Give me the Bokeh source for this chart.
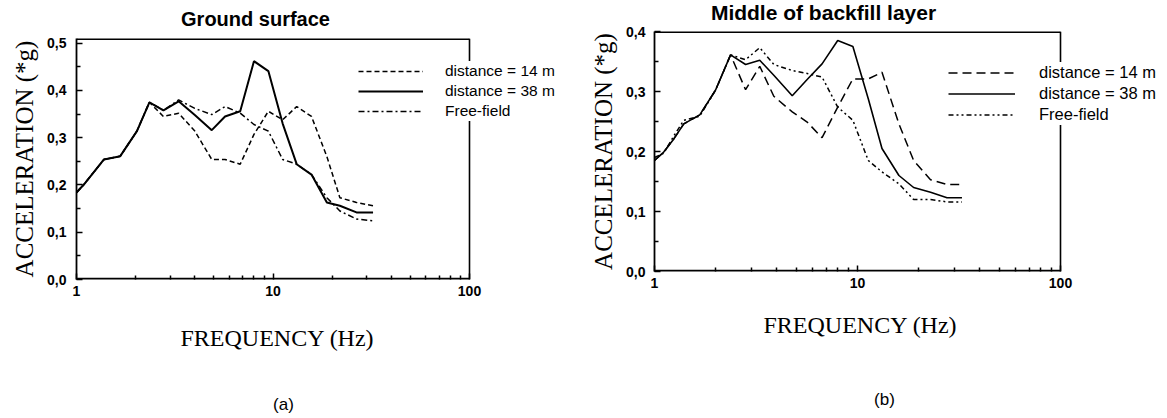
from bokeh.plotting import figure
from bokeh.models import (FixedTicker, Legend, LegendItem, Range1d,
                          CustomJSTickFormatter)
from bokeh.core.properties import value
from bokeh.layouts import row, column
from bokeh.embed import file_html
from bokeh.resources import INLINE

# ---------------- data ----------------
# Panel (a): Ground surface
freq_a = [1.0, 1.09, 1.38, 1.67, 2.03, 2.35, 2.77, 3.31, 4.0, 4.88, 5.70,
          6.81, 8.0, 9.47, 11.2, 13.2, 15.7, 18.8, 21.9, 26.6, 32.3]
d14_a = [0.184, 0.201, 0.254, 0.261, 0.314, 0.375, 0.345, 0.352, 0.314, 0.254, 0.254,
         0.244, 0.307, 0.356, 0.338, 0.366, 0.345, 0.260, 0.173, 0.163, 0.156]
d38_a = [0.184, 0.201, 0.254, 0.261, 0.314, 0.375, 0.358, 0.377, 0.348, 0.316, 0.345,
         0.356, 0.462, 0.441, 0.330, 0.244, 0.222, 0.163, 0.156, 0.142, 0.142]
ff_a = [0.184, 0.201, 0.254, 0.261, 0.314, 0.375, 0.358, 0.380, 0.362, 0.349, 0.366,
        0.352, 0.328, 0.314, 0.254, 0.244, 0.222, 0.173, 0.145, 0.128, 0.124]

# Panel (b): Middle of backfill layer
freq_b = [1.0, 1.11, 1.245, 1.394, 1.671, 1.997, 2.37, 2.81, 3.30, 3.87, 4.77,
          5.65, 6.69, 7.99, 9.49, 11.3, 13.2, 16.0, 18.9, 22.9, 27.6, 32.7]
d14_b = [0.185, 0.199, 0.221, 0.246, 0.261, 0.302, 0.361, 0.303, 0.342, 0.292, 0.266,
         0.249, 0.223, 0.274, 0.321, 0.321, 0.332, 0.246, 0.185, 0.153, 0.145, 0.145]
d38_b = [0.185, 0.199, 0.221, 0.246, 0.261, 0.302, 0.361, 0.345, 0.352, 0.327, 0.293,
         0.320, 0.346, 0.385, 0.375, 0.288, 0.205, 0.160, 0.140, 0.132, 0.123, 0.123]
ff_b = [0.190, 0.197, 0.226, 0.252, 0.259, 0.302, 0.361, 0.353, 0.373, 0.345, 0.335,
        0.330, 0.324, 0.274, 0.252, 0.185, 0.166, 0.146, 0.120, 0.120, 0.116, 0.116]

labels = ["distance = 14 m", "distance = 38 m", "Free-field"]
titles = ["Ground surface", "Middle of backfill layer"]
tags = ["(a)", "(b)"]
x_title = "FREQUENCY (Hz)"
y_title = "ACCELERATION (*g)"
x_major = [1, 10, 100]
x_minor = [2, 3, 4, 5, 6, 7, 8, 9, 20, 30, 40, 50, 60, 70, 80, 90]
X_LO, X_HI = 1, 100  # axis limits of the boxed plot area

SANS = "Liberation Sans"
SERIF = "Liberation Serif"


def text_fig(w, h, bl, items):
    """A bare strip (no axes) whose frame starts at bl; x data units = column pixels."""
    f = figure(width=w, height=h, x_range=Range1d(bl, w), y_range=Range1d(h, 0),
               min_border_left=bl, min_border_right=0, min_border_top=0,
               min_border_bottom=0,
               x_axis_location=None, y_axis_location=None,
               output_backend="svg", toolbar_location=None,
               background_fill_color="white", border_fill_color="white")
    f.outline_line_color = None
    f.xgrid.visible = False
    f.ygrid.visible = False
    for txt, x, y, font, size, style in items:
        f.text(x=[x], y=[y], text=[txt], text_align="center", text_baseline="middle",
               text_font=value(font), text_font_size=size, text_font_style=style,
               text_color="black")
    return f


def make_panel(freq, d14, d38, ff, ymax, y_major, y_minor,
               box_w, frame_w, frame_h, bl, bt, dash14, dashff, lw_solid,
               legend_cfg, ytick_standoff):
    # the frame extends right of the box so that the legend is not clipped
    x_end = 10 ** (2.0 * frame_w / box_w)
    p = figure(x_axis_type="log", x_range=Range1d(X_LO, x_end), y_range=Range1d(0, ymax),
               frame_width=frame_w, frame_height=frame_h,
               min_border_left=bl, min_border_right=0,
               min_border_top=bt, min_border_bottom=25,
               output_backend="svg", toolbar_location=None,
               background_fill_color="white", border_fill_color="white")
    p.xgrid.visible = False
    p.ygrid.visible = False
    p.outline_line_color = None

    # box: bottom, top and right edges
    p.line([X_LO, X_HI], [0, 0], line_color="black", line_width=3.6)
    p.line([X_LO, X_HI], [ymax, ymax], line_color="black", line_width=3.2)
    p.line([X_HI, X_HI], [0, ymax], line_color="black", line_width=1.6)

    r14 = p.line(freq, d14, line_color="black", line_width=1.5, line_dash=dash14)
    r38 = p.line(freq, d38, line_color="black", line_width=lw_solid)
    rff = p.line(freq, ff, line_color="black", line_width=1.5, line_dash=dashff)

    for ax in (p.xaxis[0], p.yaxis[0]):
        ax.axis_line_width = 1.8
        ax.axis_line_color = "black"
        ax.major_tick_in = 6
        ax.major_tick_out = 0
        ax.minor_tick_in = 4
        ax.minor_tick_out = 0
        ax.major_tick_line_width = 1.5
        ax.minor_tick_line_width = 1.5
        ax.major_label_text_font = SANS
        ax.major_label_text_font_style = "bold"
        ax.major_label_text_font_size = "14px"
        ax.major_label_text_color = "black"
    p.xaxis[0].axis_line_color = None

    p.xaxis[0].ticker = FixedTicker(ticks=x_major, minor_ticks=x_minor)
    p.xaxis[0].formatter = CustomJSTickFormatter(code="return tick.toFixed(0)")
    p.xaxis[0].major_label_standoff = 6

    p.yaxis[0].ticker = FixedTicker(ticks=y_major, minor_ticks=y_minor)
    p.yaxis[0].formatter = CustomJSTickFormatter(
        code="return tick.toFixed(1).replace('.', ',')")
    p.yaxis[0].major_label_standoff = ytick_standoff
    p.yaxis[0].axis_label = y_title
    p.yaxis[0].axis_label_standoff = 6
    p.yaxis[0].axis_label_text_font = SERIF
    p.yaxis[0].axis_label_text_font_style = "normal"
    p.yaxis[0].axis_label_text_font_size = "25px"
    p.yaxis[0].axis_label_text_color = "black"

    gw, gh, standoff, loc, fsize = legend_cfg
    legend = Legend(items=[LegendItem(label=labels[0], renderers=[r14]),
                           LegendItem(label=labels[1], renderers=[r38]),
                           LegendItem(label=labels[2], renderers=[rff])],
                    location=loc, padding=0, margin=0, spacing=0,
                    glyph_width=gw, glyph_height=gh, label_height=gh,
                    label_standoff=standoff,
                    border_line_color=None, background_fill_color="white",
                    background_fill_alpha=1.0,
                    label_text_font=SANS, label_text_font_size=fsize,
                    label_text_color="black")
    p.add_layout(legend)
    return p


# ---- panel (a): 560 px wide column, box frame starts at x = 76 ----
ta = text_fig(560, 31, 76, [(titles[0], 255, 18, SANS, "20px", "bold")])
pa = make_panel(freq_a, d14_a, d38_a, ff_a, 0.51,
                [0, 0.1, 0.2, 0.3, 0.4, 0.5],
                [0.05, 0.15, 0.25, 0.35, 0.45],
                393, 484, 241, 76, 7, "5 3", "6 3 2 3", 2.0,
                (65, 20, 22, (282, 158), "15.5px"), 10)
ba = text_fig(560, 114, 76, [(x_title, 277, 33, SERIF, "24px", "normal"),
                             (tags[0], 283, 100, SANS, "17px", "normal")])

# ---- panel (b): 607 px wide column, box frame starts at x = 94 ----
tb = text_fig(607, 24, 94, [(titles[1], 263, 12, SANS, "21px", "bold")])
pb = make_panel(freq_b, d14_b, d38_b, ff_b, 0.4,
                [0, 0.1, 0.2, 0.3, 0.4],
                [0.05, 0.15, 0.25, 0.35],
                406, 513, 240, 94, 7, "9 5", "5 3 2 3 2 3", 1.6,
                (67, 21, 24, (294, 146), "16.5px"), 9)
bb = text_fig(607, 122, 94, [(x_title, 300, 28, SERIF, "24px", "normal"),
                             (tags[1], 324, 103, SANS, "17px", "normal")])

layout = row(column(ta, pa, ba, spacing=0), column(tb, pb, bb, spacing=0), spacing=0)
open("out.html", "w").write(file_html(layout, INLINE))
